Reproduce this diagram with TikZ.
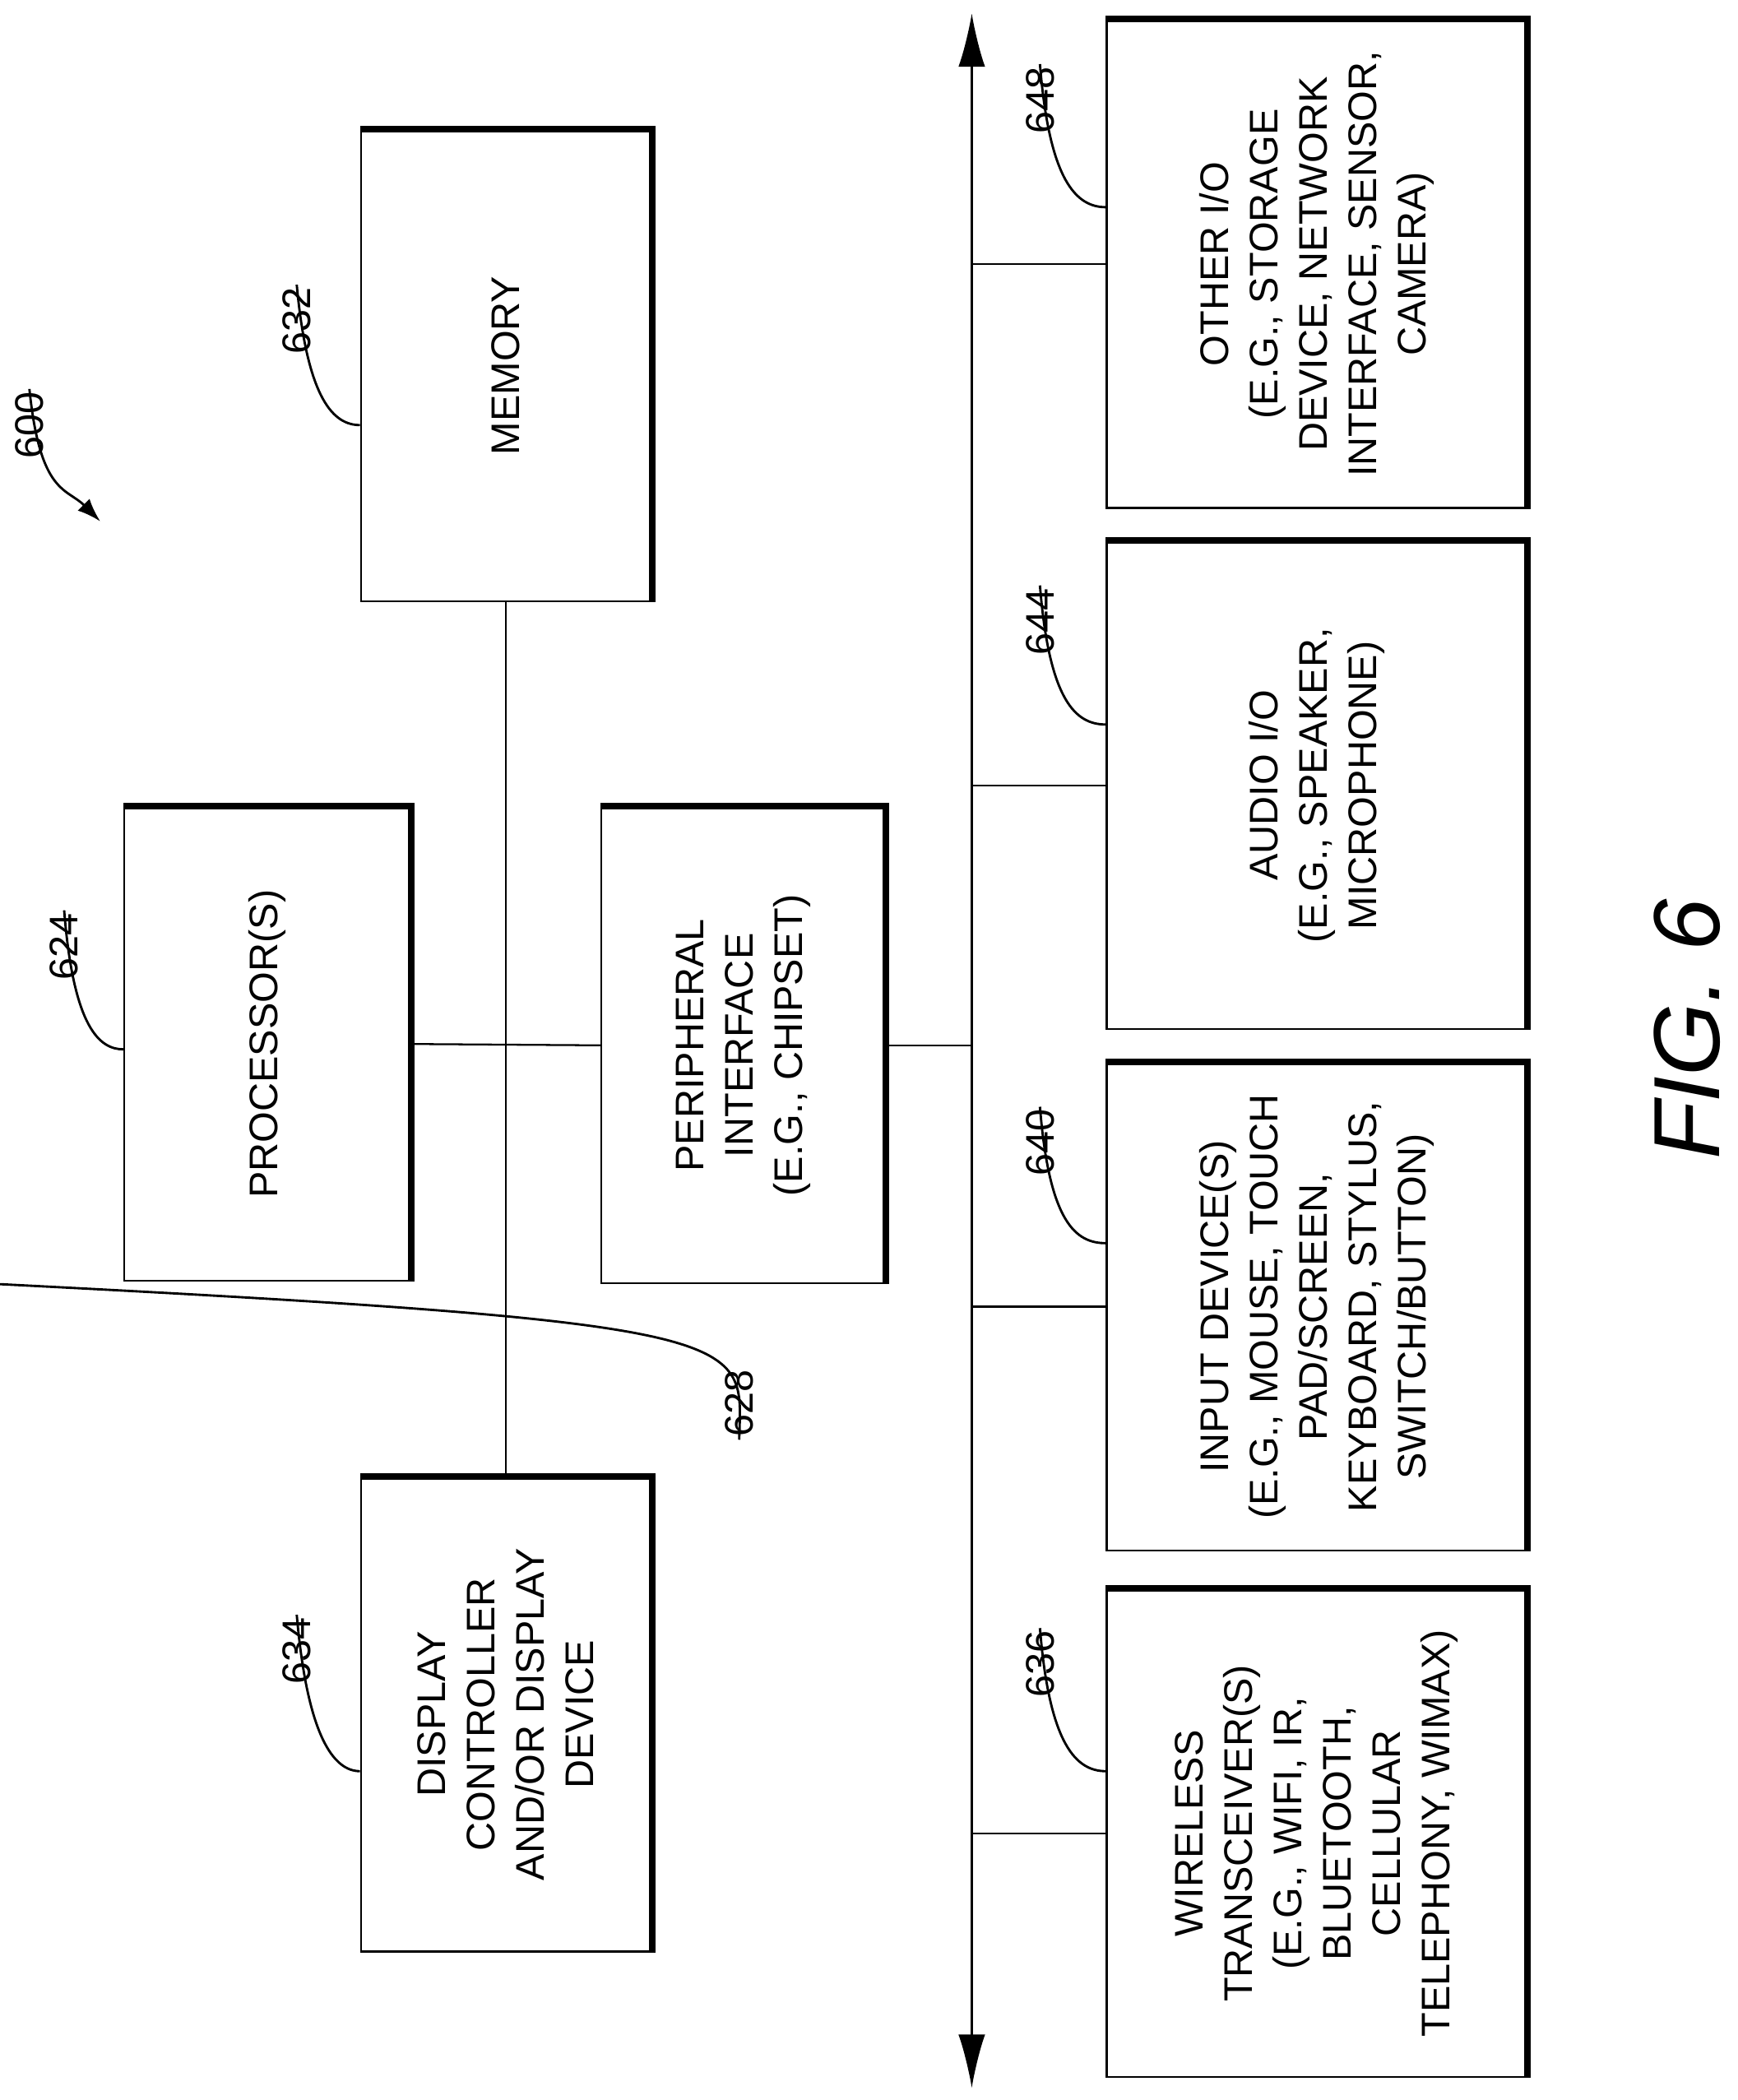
\documentclass[tikz,border=0pt]{standalone}
\usepackage{fontspec}
\setmainfont{Liberation Sans}
\usetikzlibrary{arrows.meta}
\begin{document}
\begin{tikzpicture}[x=0.02cm,y=-0.02cm,
  box/.style={draw,line width=0.8pt,rectangle,align=center,font=\fontsize{17}{21}\selectfont,inner sep=0pt},
  ref/.style={font=\fontsize{17}{20}\selectfont,rotate=90,inner sep=1pt},
  lead/.style={line width=1pt},
  shadow/.style={line width=2.8pt}]
\useasboundingbox (0,0) rectangle (1300,1571);
\newcommand{\shbox}[5]{% name, center, w, h, text
  \node[box,minimum width=#3cm,minimum height=#4cm] (#1) at #2 {};
  \node[rotate=90,align=center,font=\fontsize{17}{21}\selectfont] at (#1.center) {#5};
  \draw[shadow] (#1.north west) -- (#1.north east) -- (#1.south east);}
\shbox{mem}{(378.5,273.5)}{4.34}{7.06}{MEMORY}
\shbox{proc}{(200,781)}{4.28}{7.08}{PROCESSOR(S)}
\shbox{per}{(556,782)}{4.24}{7.12}{PERIPHERAL\\INTERFACE\\(E.G., CHIPSET)}
\shbox{disp}{(378.5,1282.5)}{4.34}{7.1}{DISPLAY\\CONTROLLER\\AND/OR DISPLAY\\DEVICE}
\shbox{oio}{(985,197.5)}{6.28}{7.3}{OTHER I/O\\(E.G., STORAGE\\DEVICE, NETWORK\\INTERFACE, SENSOR,\\CAMERA)}
\shbox{aio}{(985,587.5)}{6.28}{7.3}{AUDIO I/O\\(E.G., SPEAKER,\\MICROPHONE)}
\shbox{inp}{(985,977.5)}{6.28}{7.3}{INPUT DEVICE(S)\\(E.G., MOUSE, TOUCH\\PAD/SCREEN,\\KEYBOARD, STYLUS,\\SWITCH/BUTTON)}
\shbox{wir}{(985,1371.5)}{6.28}{7.3}{WIRELESS\\TRANSCEIVER(S)\\(E.G., WIFI, IR,\\BLUETOOTH,\\CELLULAR\\TELEPHONY, WIMAX)}
% bus
\coordinate (btop) at (727,10);
\coordinate (bbot) at (727,1562);
\draw[line width=0.8pt,{Latex[length=0.8cm,width=0.4cm]}-{Latex[length=0.8cm,width=0.4cm]}] (btop) -- (bbot);
\draw[line width=0.8pt] (mem.south) -- (disp.north);
\draw[line width=0.8pt] (proc.east) -- (per.west);
\draw[line width=0.8pt] (per.east) -- (per.east -| btop);
\foreach \b in {oio,aio,inp,wir} \draw[line width=0.8pt] (\b.west -| btop) -- (\b.west);
% reference labels
\node[ref] (l600) at (22,318) {600};
\draw[lead,-{Latex[length=0.35cm,width=0.25cm]}] (l600.east) .. controls (30,370) and (50,365) .. (75,390);
\node[ref] (l632) at (222,240) {632};
\draw[lead] (l632.east) .. controls (230,300) and (250,318) .. (mem.west |- 0,318);
\node[ref] (l624) at (48,708) {624};
\draw[lead] (l624.east) .. controls (55,770) and (75,785) .. (proc.west |- 0,785);
\node[ref] (l634) at (222,1235) {634};
\draw[lead] (l634.east) .. controls (230,1300) and (250,1325) .. (disp.west |- 0,1325);
\node[ref] (l628) at (553,1050) {628};
\draw[lead] (l628.west) .. controls (555,1000) and (575,990) .. (per.south -| 0,555);
\node[ref] (l648) at (778,75) {648};
\draw[lead] (l648.east) .. controls (785,135) and (805,155) .. (oio.west |- 0,155);
\node[ref] (l644) at (778,465) {644};
\draw[lead] (l644.east) .. controls (785,525) and (805,542) .. (aio.west |- 0,542);
\node[ref] (l640) at (778,855) {640};
\draw[lead] (l640.east) .. controls (785,915) and (805,930) .. (inp.west |- 0,930);
\node[ref] (l636) at (778,1245) {636};
\draw[lead] (l636.east) .. controls (785,1305) and (805,1325) .. (wir.west |- 0,1325);
\node[rotate=90,font=\fontsize{40}{44}\selectfont\itshape] (fig) at (1262,770) {FIG. 6};
\end{tikzpicture}
\end{document}
